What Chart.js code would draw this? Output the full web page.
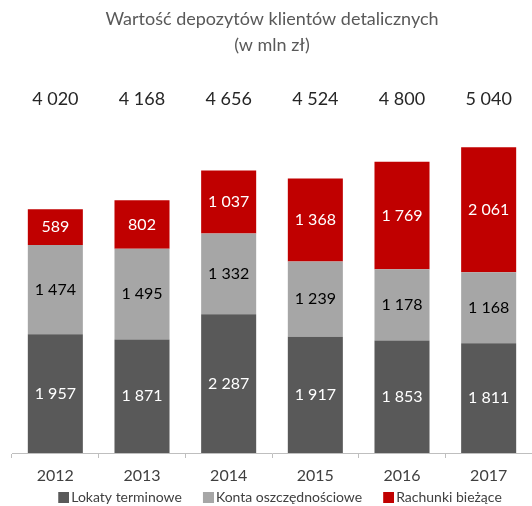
<!DOCTYPE html>
<html>
<head>
<meta charset="utf-8">
<script src="https://cdn.jsdelivr.net/npm/chart.js@4"></script>
<style>
  html, body { margin: 0; padding: 0; background: #fff; }
  #wrap { width: 532px; height: 506px; }
</style>
</head>
<body>
<div id="wrap"><canvas id="chart"></canvas></div>
<script>
// Data (mln zł)
const years = ['2012', '2013', '2014', '2015', '2016', '2017'];
const lokaty = [1957, 1871, 2287, 1917, 1853, 1811];
const konta = [1474, 1495, 1332, 1239, 1178, 1168];
const rachunki = [589, 802, 1037, 1368, 1769, 2061];
const totals = [4020, 4168, 4656, 4524, 4800, 5040];

const fontName = 'Lato, "Open Sans", sans-serif';

// format numbers with space as thousands separator (like 1 957)
function fmt(v) {
    return String(v).replace(/\B(?=(\d{3})+(?!\d))/g, ' ');
}

// legend swatch: square sitting on the right of a transparent strip,
// so items get more room between them and the text sits close to the box
function makeSwatch(color) {
    const c = document.createElement('canvas');
    c.width = 32;
    c.height = 11;
    const g = c.getContext('2d');
    g.fillStyle = color;
    g.fillRect(21, 0, 11, 11);
    return c;
}

// draws the value in the middle of every segment, and the totals above the bars
const labelsPlugin = {
    id: 'segLabels',
    afterDatasetsDraw(chart) {
        const ctx = chart.ctx;
        ctx.save();
        ctx.textAlign = 'center';
        ctx.textBaseline = 'middle';
        ctx.font = '16px ' + fontName;
        chart.data.datasets.forEach((ds, i) => {
            const meta = chart.getDatasetMeta(i);
            meta.data.forEach((bar, j) => {
                const mid = (bar.y + bar.base) / 2;
                ctx.fillStyle = ds.labelColor;
                ctx.fillText(fmt(ds.data[j]), bar.x, mid);
            });
        });
        // totals row
        const meta0 = chart.getDatasetMeta(0);
        ctx.fillStyle = '#262626';
        ctx.font = '18px ' + fontName;
        meta0.data.forEach((bar, j) => {
            ctx.fillText(fmt(totals[j]), bar.x, chart.chartArea.top - 20);
        });
        ctx.restore();
    }
};

new Chart(document.getElementById('chart'), {
    type: 'bar',
    data: {
        labels: years,
        datasets: [
            { label: 'Lokaty terminowe', data: lokaty, backgroundColor: '#595959', labelColor: '#ffffff' },
            { label: 'Konta oszczędnościowe', data: konta, backgroundColor: '#a6a6a6', labelColor: '#000000' },
            { label: 'Rachunki bieżące', data: rachunki, backgroundColor: '#c00000', labelColor: '#ffffff' }
        ]
    },
    options: {
        responsive: true,
        maintainAspectRatio: false,
        animation: false,
        layout: { padding: { left: 12, right: 0, top: 0, bottom: 0 } },
        datasets: {
            bar: { categoryPercentage: 0.635, barPercentage: 1.0 }
        },
        scales: {
            x: {
                stacked: true,
                border: { display: true, color: '#bfbfbf', width: 1 },
                grid: { display: true, drawOnChartArea: false, drawTicks: true, tickLength: 5, color: '#bfbfbf', offset: true },
                ticks: { color: '#404040', font: { family: fontName, size: 16 }, padding: 8 },
                // tighter box than the default (padding is counted twice there)
                afterFit(scale) { scale.height = 32; }
            },
            y: {
                stacked: true,
                display: false,
                min: 0,
                max: 5500
            }
        },
        plugins: {
            title: {
                display: true,
                text: ['Wartość depozytów klientów detalicznych', '(w mln zł)'],
                color: '#595959',
                font: { family: fontName, size: 18, weight: 'normal', lineHeight: 1.4 },
                padding: { top: 7, bottom: 62 }
            },
            legend: {
                position: 'bottom',
                maxHeight: 21,
                labels: {
                    color: '#404040',
                    font: { family: fontName, size: 14 },
                    usePointStyle: true,
                    pointStyleWidth: 22,
                    boxHeight: 11,
                    padding: 5,
                    generateLabels(chart) {
                        const items = Chart.defaults.plugins.legend.labels.generateLabels(chart);
                        items.forEach(it => {
                            it.pointStyle = makeSwatch(chart.data.datasets[it.datasetIndex].backgroundColor);
                        });
                        return items;
                    }
                }
            },
            tooltip: { enabled: false }
        }
    },
    plugins: [labelsPlugin]
});
</script>
</body>
</html>
